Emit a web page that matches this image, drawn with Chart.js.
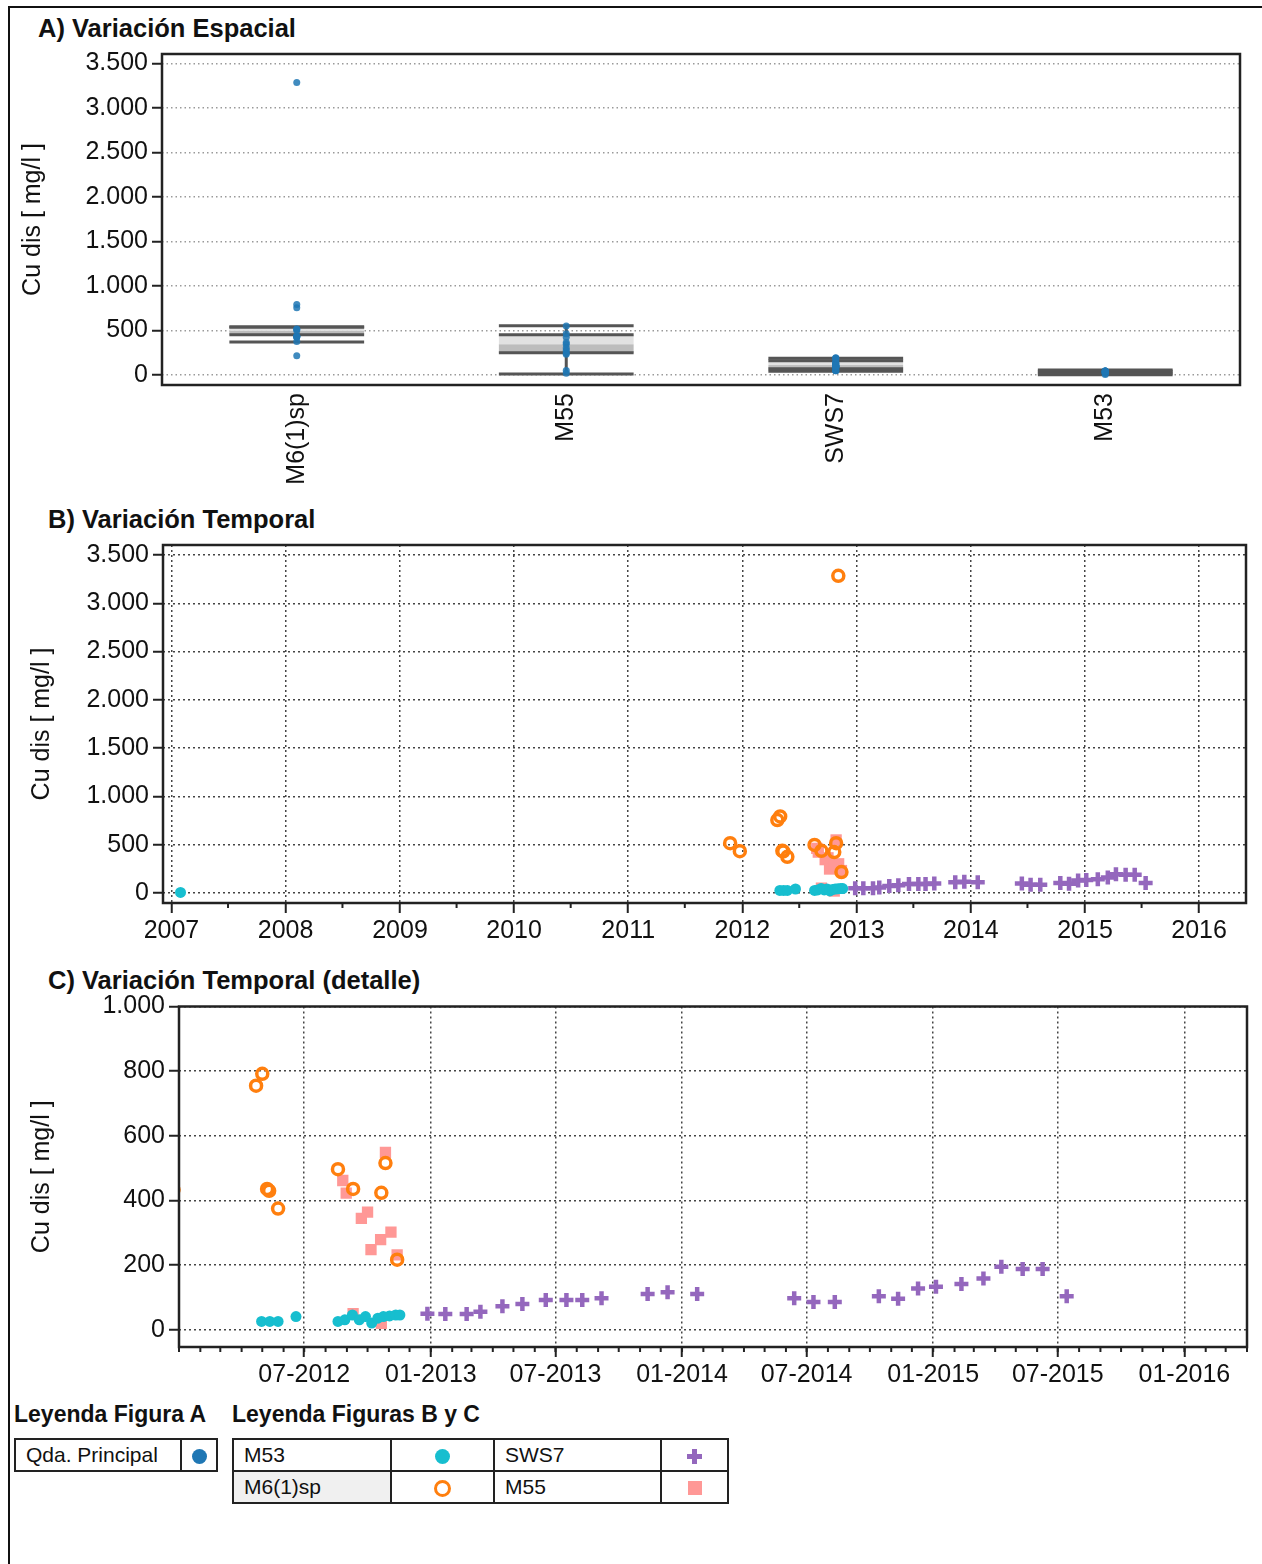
<!DOCTYPE html>
<html lang="es">
<head>
<meta charset="utf-8">
<title>Cu dis – Quebrada Principal</title>
<script src="https://cdn.jsdelivr.net/npm/chart.js@4.4.1/dist/chart.umd.min.js"></script>
<style>
  html, body { margin: 0; padding: 0; background: #fff; }
  body { width: 1262px; height: 1564px; position: relative; overflow: hidden;
         font-family: "Liberation Sans", Arial, sans-serif; color: #111; }
  .frame { position: absolute; left: 8px; top: 6px; width: 1300px; height: 1600px;
           border-left: 2px solid #111; border-top: 2px solid #111; }
  .ttl { position: absolute; font-weight: bold; font-size: 25.5px; line-height: 30px; white-space: nowrap; }
  canvas { position: absolute; left: 0; }
  .lgt { position: absolute; font-weight: bold; font-size: 23px; line-height: 30px; white-space: nowrap; }
  table.lg { position: absolute; border-collapse: collapse; border: 2px solid #222; }
  table.lg td { border: 2px solid #222; padding: 0 0 0 10px; font-size: 21px; height: 30px; white-space: nowrap; }
  table.lg td.sym { padding: 0; text-align: center; }
  .dot { display: inline-block; width: 15px; height: 15px; border-radius: 50%; vertical-align: middle; }
  .ring { display: inline-block; width: 11px; height: 11px; border: 3px solid #ff7f0e; border-radius: 50%; vertical-align: middle; }
  .sq { display: inline-block; width: 14px; height: 14px; background: #ff9896; vertical-align: middle; }
  .plus { display: inline-block; position: relative; width: 15px; height: 15px; vertical-align: middle; }
  .plus::before, .plus::after { content: ""; position: absolute; background: #9467bd; }
  .plus::before { left: 5px; top: 0; width: 5px; height: 15px; }
  .plus::after { left: 0; top: 5px; width: 15px; height: 5px; }
</style>
</head>
<body>
<div class="frame"></div>

<div class="ttl" style="left:38px;top:13px">A) Variación Espacial</div>
<div class="ttl" style="left:48px;top:504px">B) Variación Temporal</div>
<div class="ttl" style="left:48px;top:965px">C) Variación Temporal (detalle)</div>

<canvas id="chartA" width="1262" height="460" style="top:40px;width:1262px;height:460px"></canvas>
<canvas id="chartB" width="1262" height="430" style="top:530px;width:1262px;height:430px"></canvas>
<canvas id="chartC" width="1262" height="400" style="top:995px;width:1262px;height:400px"></canvas>

<div class="lgt" style="left:14px;top:1399px">Leyenda Figura A</div>
<div class="lgt" style="left:232px;top:1399px">Leyenda Figuras B y C</div>
<table class="lg" style="left:14px;top:1438px">
  <tr><td style="width:154px">Qda. Principal</td><td class="sym" style="width:34px"><span class="dot" style="background:#1f77b4"></span></td></tr>
</table>
<table class="lg" style="left:232px;top:1438px">
  <tr><td style="width:146px">M53</td><td class="sym" style="width:101px"><span class="dot" style="background:#17becf"></span></td>
      <td style="width:155px">SWS7</td><td class="sym" style="width:65px"><span class="plus"></span></td></tr>
  <tr><td style="background:#f0f0f0">M6(1)sp</td><td class="sym"><span class="ring"></span></td>
      <td>M55</td><td class="sym"><span class="sq"></span></td></tr>
</table>

<script>
// ---- Stations (panel A categories) ----
const stations = ['M6(1)sp', 'M55', 'SWS7', 'M53'];

// Box summary per station: whisker low, Q1, median, Q3, whisker high  [mg/l]
const boxLow    = [370,  11,  42,  4];
const boxQ1     = [452, 250,  70, 20];
const boxMedian = [495, 345, 112, 30];
const boxQ3     = [538, 452, 160, 42];
const boxHigh   = [538, 553, 188, 56];

// ---- Time series (Cu dis, mg/l) ----
const m53Dates  = ['2007-01-30', '2012-04-30', '2012-05-12', '2012-05-24', '2012-06-19',
                   '2012-08-19', '2012-08-29', '2012-09-09', '2012-09-19', '2012-09-28',
                   '2012-10-07', '2012-10-16', '2012-10-24', '2012-11-02', '2012-11-11', '2012-11-17'];
const m53Values = [5, 26, 26, 26, 41, 26, 31, 46, 31, 41, 21, 36, 41, 43, 46, 46];

const m6Dates   = ['2011-11-23', '2011-12-24', '2012-04-22', '2012-05-01', '2012-05-08',
                   '2012-05-11', '2012-05-24', '2012-08-19', '2012-09-10', '2012-10-21',
                   '2012-10-27', '2012-11-03', '2012-11-13'];
const m6Values  = [515, 433, 755, 792, 436, 430, 375, 497, 436, 424, 516, 3285, 217];

const sws7Dates  = ['2012-12-27', '2013-01-22', '2013-02-22', '2013-03-14', '2013-04-15',
                    '2013-05-14', '2013-06-17', '2013-07-17', '2013-08-09', '2013-09-06',
                    '2013-11-12', '2013-12-11', '2014-01-23', '2014-06-13', '2014-07-11',
                    '2014-08-11', '2014-10-14', '2014-11-11', '2014-12-10', '2015-01-05',
                    '2015-02-11', '2015-03-15', '2015-04-10', '2015-05-11', '2015-06-09', '2015-07-14'];
const sws7Values = [50, 49, 49, 56, 73, 80, 92, 92, 92, 98, 111, 116, 111, 98, 86,
                    86, 104, 96, 128, 133, 142, 159, 195, 188, 188, 104];

const m55Dates  = ['2012-08-26', '2012-08-31', '2012-09-10', '2012-09-22', '2012-10-01',
                   '2012-10-06', '2012-10-20', '2012-10-21', '2012-10-27', '2012-11-04', '2012-11-13'];
const m55Values = [462, 423, 50, 345, 364, 248, 279, 20, 549, 302, 232];

// ---- Axis ticks ----
const yTicksAB = [0, 500, 1000, 1500, 2000, 2500, 3000, 3500];
const yTicksC  = [0, 200, 400, 600, 800, 1000];
const yearTicks = ['2007', '2008', '2009', '2010', '2011', '2012', '2013', '2014', '2015', '2016'];
const halfYearTicks = ['2012-07-01', '2013-01-01', '2013-07-01', '2014-01-01',
                       '2014-07-01', '2015-01-01', '2015-07-01', '2016-01-01'];

// ---- Helpers ----
const ms = d => Date.parse(d + 'T00:00:00Z');
const thousands = v => String(v).replace(/\B(?=(\d{3})+(?!\d))/g, '.');
const mmYYYY = t => { const d = new Date(t); return String(d.getUTCMonth() + 1).padStart(2, '0') + '-' + d.getUTCFullYear(); };
const series = (dates, values) => dates.map((d, i) => ({ x: ms(d), y: values[i] }));

Chart.defaults.font.family = '"Liberation Sans", Arial, sans-serif';
Chart.defaults.color = '#111';

const INK = '#222';

// Frame around the plotting area
const framePlugin = {
  id: 'frame',
  afterDatasetsDraw(chart) {
    const { ctx, chartArea: a } = chart;
    ctx.save();
    ctx.strokeStyle = INK;
    ctx.lineWidth = 2.5;
    ctx.strokeRect(a.left, a.top, a.right - a.left, a.bottom - a.top);
    ctx.restore();
  }
};

// Small ticks between the labelled ones on the time axis
function minorTicks(values, len) {
  return {
    id: 'minorTicks',
    afterDraw(chart) {
      const { ctx, chartArea: a } = chart;
      const x = chart.scales.x;
      ctx.save();
      ctx.strokeStyle = INK;
      ctx.lineWidth = 2;
      values.forEach(v => {
        const px = x.getPixelForValue(v);
        if (px < a.left - 0.5 || px > a.right + 0.5) return;
        ctx.beginPath();
        ctx.moveTo(px, a.bottom);
        ctx.lineTo(px, a.bottom + len);
        ctx.stroke();
      });
      ctx.restore();
    }
  };
}

// Box plots of panel A
const boxPlugin = {
  id: 'boxes',
  beforeDatasetsDraw(chart) {
    const { ctx, scales: { x, y } } = chart;
    const half = (x.getPixelForValue(1) - x.getPixelForValue(0)) * 0.25;
    const py = v => y.getPixelForValue(v);
    stations.forEach((s, i) => {
      const cx = x.getPixelForValue(i);
      const l = cx - half, r = cx + half;
      ctx.save();
      ctx.fillStyle = '#e2e2e2';
      ctx.fillRect(l, py(boxQ3[i]), r - l, py(boxMedian[i]) - py(boxQ3[i]));
      ctx.fillStyle = '#bdbdbd';
      ctx.fillRect(l, py(boxMedian[i]), r - l, py(boxQ1[i]) - py(boxMedian[i]));
      ctx.strokeStyle = '#555';
      ctx.lineWidth = 3;
      ctx.beginPath();
      ctx.moveTo(cx, py(boxQ3[i])); ctx.lineTo(cx, py(boxHigh[i]));
      ctx.moveTo(cx, py(boxQ1[i])); ctx.lineTo(cx, py(boxLow[i]));
      ctx.stroke();
      [boxLow[i], boxQ1[i], boxQ3[i], boxHigh[i]].forEach(v => {
        ctx.beginPath();
        ctx.moveTo(l, py(v));
        ctx.lineTo(r, py(v));
        ctx.stroke();
      });
      ctx.restore();
    });
  }
};

function yAxis(min, max, tickVals, width, titlePad, gridColor, dash) {
  return {
    min, max,
    afterBuildTicks: s => { s.ticks = tickVals.map(v => ({ value: v })); },
    ticks: { callback: v => thousands(v), font: { size: 25 }, color: '#111', padding: 4, autoSkip: false },
    grid: { color: gridColor, lineWidth: 1.5, tickLength: 10, tickColor: INK, tickWidth: 2, tickBorderDash: [] },
    border: { display: false, dash: dash },
    title: { display: true, text: 'Cu dis [ mg/l ]', font: { size: 25 }, color: '#111', padding: { top: titlePad, bottom: 0 } },
    afterFit: s => { s.width = width; s.paddingTop = 0; s.paddingBottom = 0; }
  };
}

const baseOptions = (padding) => ({
  responsive: false,
  animation: false,
  devicePixelRatio: 1,
  events: [],
  layout: { padding },
  plugins: { legend: { display: false }, tooltip: { enabled: false } }
});

// ---- Panel A: spatial variation ----
const valuesByStation = [m6Values, m55Values, sws7Values, m53Values];
const pointsA = valuesByStation.flatMap((vals, i) => vals.map(v => ({ x: i, y: v })));

new Chart(document.getElementById('chartA'), {
  type: 'scatter',
  data: { datasets: [{
    label: 'Qda. Principal', data: pointsA,
    pointRadius: 3.5, pointBorderWidth: 0, pointBackgroundColor: 'rgba(31,119,180,0.85)'
  }] },
  options: Object.assign(baseOptions({ left: 0, right: 22, top: 14, bottom: 0 }), {
    scales: {
      x: {
        type: 'linear', min: -0.5, max: 3.5,
        afterBuildTicks: s => { s.ticks = stations.map((_, i) => ({ value: i })); },
        ticks: { callback: v => stations[v], minRotation: 90, maxRotation: 90, padding: 8,
                 font: { size: 25 }, color: '#111', autoSkip: false },
        grid: { display: false, drawTicks: false },
        border: { display: false },
        afterFit: s => { s.height = 115; s.paddingLeft = 0; s.paddingRight = 0; }
      },
      y: yAxis(-112, 3604, yTicksAB, 162, 18, '#9a9a9a', [1.5, 3])
    }
  }),
  plugins: [boxPlugin, framePlugin]
});

// ---- Panels B and C: temporal variation ----
function stationSets() {
  return [
    { label: 'M53', data: series(m53Dates, m53Values), pointStyle: 'circle',
      pointRadius: 5.5, pointBorderWidth: 0, pointBackgroundColor: '#17becf' },
    { label: 'M6(1)sp', data: series(m6Dates, m6Values), pointStyle: 'circle',
      pointRadius: 5.5, pointBorderWidth: 3.5, pointBorderColor: '#ff7f0e', pointBackgroundColor: 'rgba(0,0,0,0)' },
    { label: 'SWS7', data: series(sws7Dates, sws7Values), pointStyle: 'cross',
      pointRadius: 7, pointBorderWidth: 4.5, pointBorderColor: '#9467bd' },
    { label: 'M55', data: series(m55Dates, m55Values), pointStyle: 'rect',
      pointRadius: 8, pointBorderWidth: 0, pointBackgroundColor: '#ff9896' }
  ];
}

function timeAxis(min, max, tickDates, label, height, tickPad) {
  return {
    type: 'linear', min, max,
    afterBuildTicks: s => { s.ticks = tickDates.map(d => ({ value: ms(d) })); },
    ticks: { callback: v => label(v), font: { size: 25 }, color: '#111', padding: tickPad,
             maxRotation: 0, minRotation: 0, autoSkip: false },
    grid: { color: '#444', lineWidth: 1.5, tickLength: 10, tickColor: INK, tickWidth: 2, tickBorderDash: [] },
    border: { display: false, dash: [2, 3] },
    afterFit: s => { s.height = height; s.paddingLeft = 0; s.paddingRight = 0; }
  };
}

const yearDates = yearTicks.map(y => y + '-01-01');
const midYears = yearTicks.map(y => ms(y + '-07-01'));
new Chart(document.getElementById('chartB'), {
  type: 'scatter',
  data: { datasets: stationSets() },
  options: Object.assign(baseOptions({ left: 0, right: 16, top: 15, bottom: 0 }), {
    scales: {
      x: timeAxis(ms('2006-12-05'), ms('2016-05-30'), yearDates, v => String(new Date(v).getUTCFullYear()), 57, 3),
      y: yAxis(-104, 3604, yTicksAB, 163, 27, '#444', [2, 3])
    }
  }),
  plugins: [minorTicks(midYears, 5), framePlugin]
});

const months = [];
for (let y = 2012; y <= 2016; y++) for (let m = 1; m <= 12; m++) months.push(Date.UTC(y, m - 1, 1));
new Chart(document.getElementById('chartC'), {
  type: 'scatter',
  data: { datasets: stationSets() },
  options: Object.assign(baseOptions({ left: 0, right: 15, top: 11, bottom: 0 }), {
    scales: {
      x: timeAxis(ms('2012-01-01'), ms('2016-04-01'), halfYearTicks, mmYYYY, 48, 3),
      y: yAxis(-53, 1000, yTicksC, 179, 27, '#444', [2, 3])
    }
  }),
  plugins: [minorTicks(months, 5), framePlugin]
});
</script>
</body>
</html>
